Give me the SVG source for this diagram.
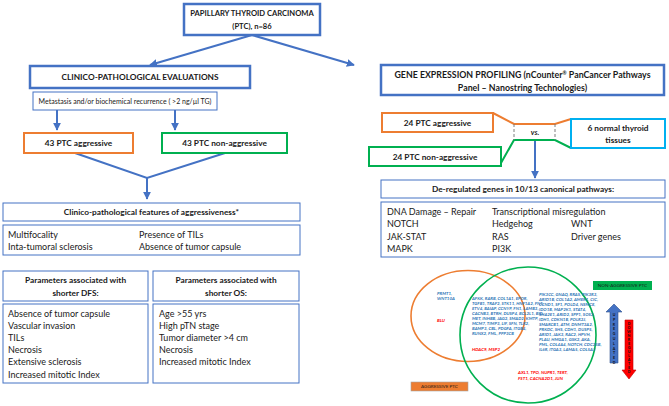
<svg xmlns="http://www.w3.org/2000/svg" width="669" height="406" viewBox="0 0 669 406">
<style>
text{font-family:Lato,"Liberation Sans",sans-serif;fill:#1a1a1a}
.t{font-size:7.6px;font-weight:bold}
.m{font-size:9px}
.h{font-size:8.3px;font-weight:bold}
.thick{fill:#fff;stroke:#4472C4;stroke-width:2.5}
.thin{fill:#fff;stroke:#4472C4;stroke-width:1}
.or{fill:#fff;stroke:#ED7D31;stroke-width:2}
.gr{fill:#fff;stroke:#00B050;stroke-width:2}
.cy{fill:#fff;stroke:#00B0F0;stroke-width:2}
.con{stroke:#4472C4;stroke-width:2;fill:none}
.g{font-size:4.4px;font-weight:bold;font-style:italic;fill:#2E75B6}
.r{font-size:4.5px;font-weight:bold;font-style:italic;fill:#FF0000}
.v{font-size:3.6px;font-weight:bold;fill:#111}
</style>
<defs>
<marker id="ah" viewBox="0 0 10 10" refX="9" refY="5" markerWidth="4" markerHeight="4" orient="auto" markerUnits="strokeWidth">
<path d="M0,0 L10,5 L0,10 z" fill="#4472C4"/>
</marker>
</defs>

<g id="connectors">
<line class="con" x1="252" y1="35" x2="150" y2="65" marker-end="url(#ah)"/>
<line class="con" x1="252" y1="35" x2="354" y2="65" marker-end="url(#ah)"/>
<line class="con" x1="57" y1="110" x2="57" y2="130" marker-end="url(#ah)"/>
<line class="con" x1="175" y1="110" x2="175" y2="130" marker-end="url(#ah)"/>
<polyline class="con" points="75,153 147,178 225,153"/>
<line class="con" x1="147" y1="178" x2="147" y2="199" marker-end="url(#ah)"/>
<polyline points="493,113 514,124 555,124 571,119" fill="none" stroke="#ED7D31" stroke-width="2"/>
<polyline points="501,163 514,140 555,140 571,148" fill="none" stroke="#00B050" stroke-width="2"/>
<line x1="514" y1="124" x2="514" y2="140" stroke="#7f7f7f" stroke-width="1" stroke-dasharray="3,2"/>
<line x1="555" y1="124" x2="555" y2="140" stroke="#7f7f7f" stroke-width="1" stroke-dasharray="3,2"/>
<line class="con" x1="535" y1="141" x2="535" y2="178" marker-end="url(#ah)"/>
</g>

<g id="ptc">
<rect class="thick" x="184" y="4" width="136" height="31"/>
<text class="t" x="252" y="16" text-anchor="middle">PAPILLARY THYROID CARCINOMA</text>
<text class="t" x="252" y="28.5" text-anchor="middle">(PTC), n=86</text>
</g>

<g id="clinico">
<rect class="thick" x="30" y="66" width="220" height="22"/>
<text x="140" y="80" text-anchor="middle" font-size="8.3" font-weight="bold">CLINICO-PATHOLOGICAL EVALUATIONS</text>
</g>

<g id="metastasis">
<rect class="thin" x="33" y="92" width="184" height="18"/>
<text x="125" y="104" text-anchor="middle" font-size="7">Metastasis and/or biochemical recurrence ( &gt;2 ng/µl TG)</text>
</g>

<g id="agg43">
<rect class="or" x="24" y="133" width="109" height="20"/>
<text class="h" x="78.5" y="146" text-anchor="middle">43 PTC aggressive</text>
</g>

<g id="nonagg43">
<rect class="gr" x="162" y="133" width="125" height="20"/>
<text class="h" x="224.5" y="146" text-anchor="middle">43 PTC non-aggressive</text>
</g>

<g id="features-head">
<rect class="thin" x="3" y="203" width="297" height="18"/>
<text class="h" x="151.5" y="215" text-anchor="middle">Clinico-pathological features of aggressiveness*</text>
</g>

<g id="features-list">
<rect class="thin" x="3" y="225" width="297" height="30"/>
<text class="m" x="8" y="237.5">Multifocality</text>
<text class="m" x="8" y="249.5">Inta-tumoral sclerosis</text>
<text class="m" x="139" y="237.5">Presence of TILs</text>
<text class="m" x="139" y="249.5">Absence of tumor capsule</text>
</g>

<g id="dfs-head">
<rect class="thin" x="3" y="271" width="145" height="30"/>
<text class="h" x="75.5" y="283" text-anchor="middle">Parameters associated with</text>
<text class="h" x="75.5" y="295.5" text-anchor="middle">shorter DFS:</text>
</g>

<g id="dfs-list">
<rect class="thin" x="3" y="304" width="145" height="79"/>
<text class="m" x="8" y="316.5">Absence of tumor capsule</text>
<text class="m" x="8" y="328.7">Vascular invasion</text>
<text class="m" x="8" y="340.9">TILs</text>
<text class="m" x="8" y="353.1">Necrosis</text>
<text class="m" x="8" y="365.3">Extensive sclerosis</text>
<text class="m" x="8" y="377.5">Increased mitotic Index</text>
</g>

<g id="os-head">
<rect class="thin" x="153" y="271" width="146" height="30"/>
<text class="h" x="226" y="283" text-anchor="middle">Parameters associated with</text>
<text class="h" x="226" y="295.5" text-anchor="middle">shorter OS:</text>
</g>

<g id="os-list">
<rect class="thin" x="153" y="304" width="146" height="79"/>
<text class="m" x="159" y="316.5">Age &gt;55 yrs</text>
<text class="m" x="159" y="328.7">High pTN stage</text>
<text class="m" x="159" y="340.9">Tumor diameter &gt;4 cm</text>
<text class="m" x="159" y="353.1">Necrosis</text>
<text class="m" x="159" y="365.3">Increased mitotic Index</text>
</g>

<g id="gene-profiling">
<rect class="thick" x="381" y="65" width="283" height="30"/>
<text x="522.5" y="78" text-anchor="middle" font-size="8.8" font-weight="bold">GENE EXPRESSION PROFILING (nCounter<tspan font-size="5" dy="-3.5">®</tspan><tspan dy="3.5"> PanCancer Pathways</tspan></text>
<text x="522.5" y="90.5" text-anchor="middle" font-size="8.8" font-weight="bold">Panel – Nanostring Technologies)</text>
</g>

<g id="agg24">
<rect class="or" x="382" y="113" width="111" height="19"/>
<text class="h" x="437.5" y="125.5" text-anchor="middle">24 PTC aggressive</text>
</g>

<g id="vs">
<text x="535" y="135" text-anchor="middle" font-size="7.5" font-weight="bold" font-style="italic">vs.</text>
</g>

<g id="normal">
<rect class="cy" x="571" y="119" width="94" height="29"/>
<text class="h" x="618" y="131" text-anchor="middle">6 normal thyroid</text>
<text class="h" x="618" y="143" text-anchor="middle">tissues</text>
</g>

<g id="nonagg24">
<rect class="gr" x="369" y="147" width="132" height="19"/>
<text class="h" x="435" y="159.5" text-anchor="middle">24 PTC non-aggressive</text>
</g>

<g id="dereg-head">
<rect class="thin" x="381" y="180" width="284" height="18"/>
<text class="h" x="523" y="192" text-anchor="middle">De-regulated genes in 10/13 canonical pathways:</text>
</g>

<g id="pathways">
<rect class="thin" x="381" y="202" width="284" height="55"/>
<text class="m" x="387" y="214.5">DNA Damage – Repair</text>
<text class="m" x="387" y="227">NOTCH</text>
<text class="m" x="387" y="239.5">JAK-STAT</text>
<text class="m" x="387" y="252">MAPK</text>
<text class="m" x="492" y="214.5">Transcriptional misregulation</text>
<text class="m" x="492" y="227">Hedgehog</text>
<text class="m" x="492" y="239.5">RAS</text>
<text class="m" x="492" y="252">PI3K</text>
<text class="m" x="571" y="227">WNT</text>
<text class="m" x="571" y="239.5">Driver genes</text>
</g>

<g id="venn">
<ellipse cx="468" cy="316" rx="57" ry="45.5" fill="none" stroke="#ED7D31" stroke-width="1.6"/>
<ellipse cx="528" cy="335" rx="68" ry="68" fill="none" stroke="#00B050" stroke-width="1.6"/>
<text class="g" x="437" y="295">PRMT1,</text>
<text class="g" x="437" y="300">WNT10A</text>
<text class="r" x="437" y="322">BLU</text>
<text class="r" x="472" y="351">HDAC9, MSP2</text>
<text class="g" x="472" y="300">AFKK, RARB, COL1A1, EPOR,</text>
<text class="g" x="472" y="305">TGFB1, TRAF2, STK11, HNF1A2, FN1,</text>
<text class="g" x="472" y="310">ETV4, BAIAP, CCNYP, FN1, LAMB3,</text>
<text class="g" x="472" y="315">CACNB3, BTRH, DUSP4, BCL2L1, BID,</text>
<text class="g" x="472" y="320">MET, INHBB, JAG2, SMAD2, KMTP,</text>
<text class="g" x="472" y="325">MCM7, TIMP3, LIF, SFN, TLR2,</text>
<text class="g" x="472" y="330">BAMP3, CBL, PDGFA, ITGB4,</text>
<text class="g" x="472" y="335">RUNX2, FML, PPP3CB</text>
<text class="g" x="539" y="296">PIK3CC, GNAQ, RRAS, PIK3R3,</text>
<text class="g" x="539" y="301">ARID1B, COL1A2, AMER1, CIC,</text>
<text class="g" x="539" y="306">CCND1, SF1, POLD4, NSMCE,</text>
<text class="g" x="539" y="311">IDO1B, MAP2K1, STAT4,</text>
<text class="g" x="539" y="316">SHA2E1, ARID2, SPP1, SOS2,</text>
<text class="g" x="539" y="321">IDH1, CDKN1B, POLR2J,</text>
<text class="g" x="539" y="326">SMARCB1, ATM, DNMT3A2,</text>
<text class="g" x="539" y="331">PRKDC, SHS, CDH1, DUSP5,</text>
<text class="g" x="539" y="336">ARID1, JAK3, RAC2, HPVH,</text>
<text class="g" x="539" y="341">PLAU, HMGA1, GSK2, AKA,</text>
<text class="g" x="539" y="346">PML, COL4A4, NOTCH, CDC25B,</text>
<text class="g" x="539" y="351">IL6R, ITGA3, LAMA5, COL5A1</text>
<text class="r" x="518" y="374">AXL1, TPO, NUPR1, TERT,</text>
<text class="r" x="518" y="379.5">FST1, CACNA2D1, JUN</text>
</g>

<g id="label-nonagg">
<rect x="593" y="281" width="59" height="9" fill="#00B050"/>
<text x="622.5" y="287.3" text-anchor="middle" font-size="4.6" fill="#111">NON-AGGRESSIVE PTC</text>
</g>

<g id="label-agg">
<rect x="411" y="382" width="57" height="9" fill="#ED7D31" stroke="#A5A5A5" stroke-width="0.6"/>
<text x="439.5" y="388.3" text-anchor="middle" font-size="4.6" fill="#111">AGGRESSIVE PTC</text>
</g>

<g id="upregulated">
<path d="M610,312 L606,312 L614,304 L622,312 L618,312 L618,363 L610,363 Z" fill="#4472C4" stroke="#2F528F" stroke-width="0.6"/>
<text class="v" text-anchor="middle">
<tspan x="614" y="316">U</tspan><tspan x="614" y="320.8">P</tspan><tspan x="614" y="325.6">R</tspan><tspan x="614" y="330.4">E</tspan><tspan x="614" y="335.2">G</tspan><tspan x="614" y="340">U</tspan><tspan x="614" y="344.8">L</tspan><tspan x="614" y="349.6">A</tspan><tspan x="614" y="354.4">T</tspan><tspan x="614" y="359.2">E</tspan><tspan x="614" y="364">D</tspan>
</text>
</g>

<g id="downregulated">
<path d="M625,320 L633,320 L633,370 L636,370 L629,379 L622,370 L625,370 Z" fill="#FF0000" stroke="#C00000" stroke-width="0.6"/>
<text class="v" text-anchor="middle">
<tspan x="629" y="325">D</tspan><tspan x="629" y="329">O</tspan><tspan x="629" y="333">W</tspan><tspan x="629" y="337">N</tspan><tspan x="629" y="341">R</tspan><tspan x="629" y="345">E</tspan><tspan x="629" y="349">G</tspan><tspan x="629" y="353">U</tspan><tspan x="629" y="357">L</tspan><tspan x="629" y="361">A</tspan><tspan x="629" y="365">T</tspan><tspan x="629" y="369">E</tspan><tspan x="629" y="373">D</tspan>
</text>
</g>
</svg>
